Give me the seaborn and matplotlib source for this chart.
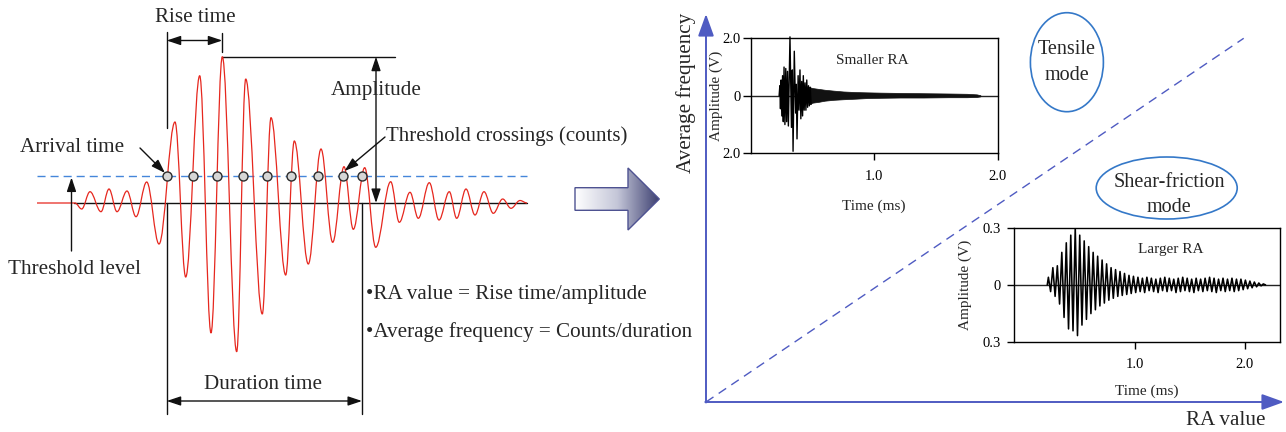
import numpy as np
import matplotlib
matplotlib.use("Agg")
import matplotlib.pyplot as plt
import seaborn as sns
from matplotlib.path import Path
from matplotlib.patches import PathPatch, Polygon, Ellipse
from matplotlib.colors import LinearSegmentedColormap

# ---------------- data ----------------
# Left schematic AE hit: extrema of the red signal (x in px, height above baseline in px)
sig_x = [37, 75, 81.7, 90, 101, 109, 117, 127, 136, 146.7,
         159, 175, 185.7, 199.7, 211, 222.3, 236.7, 245.7,
         262.3, 271, 285.7, 294.3, 308.3, 321, 332.7, 344,
         353.3, 364.7, 375.7, 390.7, 399.3, 410, 418.3, 429.3,
         439, 449.3, 456.7, 466, 475, 484, 493.3, 502.7,
         511, 520, 527]
sig_amp = [0, 0, -6, 11.3, -8.7, 14, -8.7, 12, -13.7, 21,
           -41, 81, -74, 127.3, -130, 146.3, -148.7, 124,
           -111, 85.3, -72, 62, -61, 54, -39.3, 36.3,
           -26.3, 35.3, -44.3, 21.3, -19.3, 10.7, -15.3, 20.3,
           -17, 11.3, -15.3, 14, -12, 11.3, -10.3, 4,
           -5.3, 2.5, 0]
threshold_amp = 27
crossings_x = [166.7, 193, 217.3, 242.7, 267.3, 290.7, 317.7, 342.7, 362]

# Inset 1: "Smaller RA" waveform (time ms, amplitude V)
w1_t = [0.230, 0.236, 0.241, 0.246, 0.252, 0.258, 0.264, 0.270, 0.277, 0.284,
        0.291, 0.298, 0.305, 0.318, 0.330, 0.337, 0.343, 0.353, 0.364, 0.369,
        0.375, 0.384, 0.391, 0.399, 0.406, 0.413, 0.420, 0.426, 0.433, 0.440,
        0.447, 0.454, 0.461, 0.468, 0.475, 0.482, 0.489]
w1_a = [0.0, 0.35, -0.45, 0.55, -0.7, 0.7, -0.9, 1.0, -1.0, 0.95,
        -0.9, 0.85, -1.05, 2.05, -1.1, 0.9, -1.93, 1.55, -0.6, 0.4,
        -1.5, 0.7, -0.5, 0.9, -0.8, 0.5, -0.7, 0.7, -0.5, 0.45,
        -0.5, 0.55, -0.4, 0.35, -0.35, 0.3, -0.3]
w1_band_t = [0.47, 0.50, 0.55, 0.60, 0.67, 0.75, 0.85, 0.94, 1.05, 1.21, 1.40, 1.60, 1.75, 1.83, 1.86]
w1_band_hi = [0.31, 0.27, 0.24, 0.21, 0.18, 0.15, 0.13, 0.12, 0.11, 0.10, 0.09, 0.08, 0.07, 0.05, 0.02]
w1_band_lo = [-0.30, -0.24, -0.21, -0.17, -0.14, -0.12, -0.10, -0.08, -0.07, -0.06, -0.06, -0.05, -0.05, -0.04, -0.02]

# Inset 2: "Larger RA" waveform, one peak and one trough per oscillation
w2_first_peak = 0.204
w2_period = 0.041
w2_peaks = [0.04, 0.09, 0.10, 0.17, 0.22, 0.26, 0.30, 0.26, 0.23, 0.20,
            0.17, 0.15, 0.13, 0.11, 0.09, 0.08, 0.07, 0.06, 0.05, 0.045,
            0.04, 0.035, 0.04, 0.035, 0.03, 0.035, 0.04, 0.035, 0.03, 0.035,
            0.04, 0.035, 0.03, 0.035, 0.03, 0.035, 0.04, 0.035, 0.03, 0.035,
            0.03, 0.035, 0.03, 0.03, 0.025, 0.02, 0.015, 0.01, 0.005]
w2_troughs = [-0.035, -0.06, -0.10, -0.17, -0.23, -0.24, -0.265, -0.21, -0.18, -0.15,
              -0.13, -0.11, -0.095, -0.08, -0.07, -0.06, -0.055, -0.05, -0.045, -0.04,
              -0.035, -0.04, -0.03, -0.035, -0.04, -0.03, -0.035, -0.03, -0.04, -0.035,
              -0.03, -0.035, -0.04, -0.03, -0.035, -0.03, -0.035, -0.04, -0.03, -0.035,
              -0.03, -0.035, -0.03, -0.025, -0.02, -0.015, -0.01, -0.005, 0.0]

inset_xticks = [1.0, 2.0]
inset_xticklabels = ["1.0", "2.0"]
inset1_yticks = [-2.0, 0.0, 2.0]
inset1_yticklabels = ["2.0", "0", "2.0"]
inset2_yticks = [-0.3, 0.0, 0.3]
inset2_yticklabels = ["0.3", "0", "0.3"]

# ---------------- style ----------------
sns.set_theme(style="white")
plt.rcParams["font.family"] = ["Liberation Serif", "DejaVu Serif"]

RED = "#e6271e"
DASH_BLUE = "#4586da"
AX_BLUE = "#4f5bc2"
ELL_BLUE = "#3478c8"
BIG = 15.2

W, H = 1286, 432
fig = plt.figure(figsize=(W / 100, H / 100), dpi=100)
ax = fig.add_axes([0, 0, 1, 1])
ax.set_xlim(0, W)
ax.set_ylim(H, 0)
ax.axis("off")

BASE = 203
thr_y = BASE - threshold_amp


def smooth_path(xs, ys, k=0.364):
    verts = [(xs[0], ys[0])]
    codes = [Path.MOVETO]
    for i in range(1, len(xs)):
        x0, y0, x1, y1 = xs[i - 1], ys[i - 1], xs[i], ys[i]
        d = (x1 - x0) * k
        verts += [(x0 + d, y0), (x1 - d, y1), (x1, y1)]
        codes += [Path.CURVE4] * 3
    return Path(verts, codes)


# ---------------- left schematic ----------------
lk = "#111111"
ax.plot([37, 527], [thr_y, thr_y], color=DASH_BLUE, lw=1.0, ls=(0, (5.8, 3.6)), zorder=2)
ax.plot([74, 527], [BASE, BASE], color=lk, lw=1.0, zorder=2)
sig_y = [BASE - a for a in sig_amp]
ax.add_patch(PathPatch(smooth_path(sig_x, sig_y), facecolor="none", edgecolor=RED, lw=0.9, zorder=3))
ax.scatter(crossings_x, [thr_y] * len(crossings_x), s=42, facecolor="#d6d6d6",
           edgecolor="#2a2a2a", linewidth=1.0, zorder=5)

x_arr, x_peak, x_end = crossings_x[0], 222.3, crossings_x[-1]
ax.plot([x_arr, x_arr], [32, 128], color=lk, lw=1.0)
ax.plot([x_arr, x_arr], [BASE, 414], color=lk, lw=1.0)
ax.plot([x_end, x_end], [BASE, 414], color=lk, lw=1.0)
ax.plot([x_peak, x_peak], [33, 52], color=lk, lw=1.0)
ax.plot([x_peak, 395], [BASE - max(sig_amp), BASE - max(sig_amp)], color=lk, lw=1.0)

dbl = dict(arrowstyle="<|-|>,head_length=0.6,head_width=0.2", color=lk, lw=1.0,
           shrinkA=0, shrinkB=0, mutation_scale=14)
one = dict(arrowstyle="-|>,head_length=0.6,head_width=0.2", color=lk, lw=1.0,
           shrinkA=0, shrinkB=0, mutation_scale=14)
ax.annotate("", xy=(x_peak, 40.5), xytext=(x_arr, 40.5), arrowprops=dbl)
ax.annotate("", xy=(376, BASE - max(sig_amp)), xytext=(376, BASE), arrowprops=dbl)
ax.annotate("", xy=(x_end, 401), xytext=(x_arr, 401), arrowprops=dbl)
ax.annotate("", xy=(71.5, thr_y + 1.5), xytext=(71.5, 251), arrowprops=one)
ax.annotate("", xy=(165, 173), xytext=(140, 148), arrowprops=one)
ax.annotate("", xy=(344.5, 171), xytext=(385, 137), arrowprops=one)

ax.text(195, 21.5, "Rise time", ha="center", va="baseline", fontsize=BIG)
ax.text(330.5, 95, "Amplitude", ha="left", va="baseline", fontsize=BIG)
ax.text(386.5, 141.5, "Threshold crossings (counts)", ha="left", va="baseline", fontsize=15)
ax.text(20.5, 151.5, "Arrival time", ha="left", va="baseline", fontsize=BIG)
ax.text(8.5, 274, "Threshold level", ha="left", va="baseline", fontsize=BIG)
ax.text(263.5, 389.3, "Duration time", ha="center", va="baseline", fontsize=BIG)
ax.text(366.5, 299.3, "\u2022RA value = Rise time/amplitude", ha="left", va="baseline", fontsize=BIG)
ax.text(366.5, 336.7, "\u2022Average frequency = Counts/duration", ha="left", va="baseline", fontsize=BIG)

# ---------------- gradient arrow ----------------
arrow_verts = [(575, 187.7), (628, 187.7), (628, 168), (659.3, 199), (628, 230), (628, 210.3), (575, 210.3)]
poly = Polygon(arrow_verts, closed=True, facecolor="none", edgecolor="#4e5291", lw=1.0, zorder=4)
ax.add_patch(poly)
cmap = LinearSegmentedColormap.from_list("g", ["#ffffff", "#c4c6d8", "#3b3e6f"])
grad = np.linspace(0, 1, 256).reshape(1, -1)
im = ax.imshow(grad, extent=(575, 659.3, 230, 168), cmap=cmap, aspect="auto", zorder=3,
               interpolation="bilinear")
im.set_clip_path(poly)

# ---------------- right panel ----------------
ax.plot([706, 1243.7], [402, 38.3], color=AX_BLUE, lw=1.0, ls=(0, (6.5, 4.5)), zorder=2)
head = dict(arrowstyle="-|>,head_length=0.75,head_width=0.27", color=AX_BLUE, lw=1.4,
            shrinkA=0, shrinkB=0, mutation_scale=18)
ax.annotate("", xy=(706, 14), xytext=(706, 402.5), arrowprops=head)
ax.annotate("", xy=(1284, 402), xytext=(705.3, 402), arrowprops=head)
ax.text(690.5, 93.3, "Average frequency", rotation=90, rotation_mode="anchor",
        ha="center", va="baseline", fontsize=BIG)
ax.text(1185.5, 425, "RA value", ha="left", va="baseline", fontsize=BIG)

ax.add_patch(Ellipse((1066.9, 62.2), 73, 99, fill=False, edgecolor=ELL_BLUE, lw=1.2))
ax.add_patch(Ellipse((1166.7, 188), 141, 62, fill=False, edgecolor=ELL_BLUE, lw=1.2))
ax.text(1066.9, 54, "Tensile", ha="center", va="baseline", fontsize=14.5)
ax.text(1066.9, 80, "mode", ha="center", va="baseline", fontsize=14.5)
ax.text(1169, 187.3, "Shear-friction", ha="center", va="baseline", fontsize=14.5)
ax.text(1169, 212.3, "mode", ha="center", va="baseline", fontsize=14.5)


# ---------------- insets ----------------
def frac_rect(l, r, t, b):
    return [l / W, 1 - b / H, (r - l) / W, (b - t) / H]


def style_inset(a, yt, ytl, xpad, ypad, ylen):
    for s in a.spines.values():
        s.set_color("black")
        s.set_linewidth(1.0)
        s.set_visible(True)
    a.set_facecolor("white")
    a.set_xticks(inset_xticks)
    a.set_xticklabels(inset_xticklabels)
    a.set_yticks(yt)
    a.set_yticklabels(ytl)
    a.tick_params(axis="x", bottom=True, direction="out", length=4.8, width=1.0,
                  pad=xpad, labelsize=10.5, colors="black")
    a.tick_params(axis="y", left=True, direction="out", length=ylen, width=1.0,
                  pad=ypad, labelsize=10.5, colors="black")
    a.grid(False)


ax1 = fig.add_axes(frac_rect(750.7, 997.7, 38.3, 153.3))
ax1.axhline(0, color="#222222", lw=1.0, zorder=1)
sns.lineplot(x=w1_t, y=w1_a, ax=ax1, sort=False, estimator=None, color="black", lw=1.0)
ax1.fill_between(w1_band_t, w1_band_lo, w1_band_hi, color="#111111", lw=0.5)
ax1.set_xlim(0, 2.0)
ax1.set_ylim(-2.0, 2.0)
for ln in ax1.lines:
    ln.set_clip_on(False)
style_inset(ax1, inset1_yticks, inset1_yticklabels, xpad=7, ypad=1.5, ylen=5.8)
ax1.set_xlabel("Time (ms)", fontsize=11, va="baseline")
ax1.xaxis.set_label_coords(0.5, -0.493)
ax1.set_ylabel("Amplitude (V)", fontsize=11, va="bottom")
ax1.yaxis.set_label_coords(-0.111, 0.5)
ax1.text(0.986, 1.11, "Smaller RA", ha="center", va="baseline", fontsize=11)

w2_t, w2_a = [w2_first_peak - w2_period / 4], [0.0]
for k, (p, q) in enumerate(zip(w2_peaks, w2_troughs)):
    w2_t += [w2_first_peak + k * w2_period, w2_first_peak + (k + 0.5) * w2_period]
    w2_a += [p, q]

ax2 = fig.add_axes(frac_rect(1014.2, 1279.8, 227.5, 342.3))
ax2.axhline(0, color="#222222", lw=1.0, zorder=1)
sns.lineplot(x=w2_t, y=w2_a, ax=ax2, sort=False, estimator=None, color="black", lw=1.15)
ax2.set_xlim(-0.109, 2.323)
ax2.set_ylim(-0.3, 0.3)
style_inset(ax2, inset2_yticks, inset2_yticklabels, xpad=6.5, ypad=5, ylen=4.8)
ax2.set_xlabel("Time (ms)", fontsize=11, va="baseline")
ax2.xaxis.set_label_coords(0.5, -0.459)
ax2.set_ylabel("Amplitude (V)", fontsize=11, va="bottom")
ax2.yaxis.set_label_coords(-0.16, 0.5)
ax2.text(1.325, 0.165, "Larger RA", ha="center", va="baseline", fontsize=11)

fig.savefig("out.png", dpi=100, facecolor="white")
